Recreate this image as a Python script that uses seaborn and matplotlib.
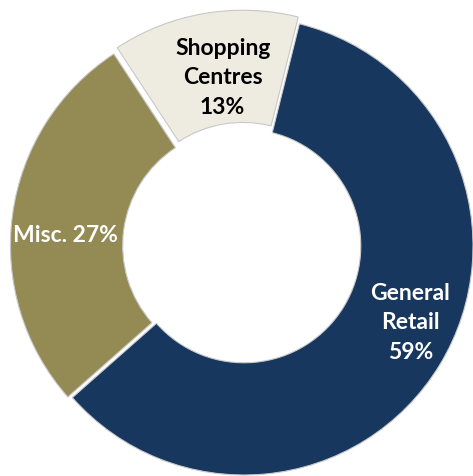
import numpy as np
import matplotlib
matplotlib.use("Agg")
import matplotlib.pyplot as plt
import seaborn as sns

# ── Data ──────────────────────────────────────────────────────────────────────
categories  = ["Shopping Centres", "Misc.", "General Retail"]
label_words = ["Shopping\nCentres", "Misc.", "General\nRetail"]
label_sep   = ["\n", " ", "\n"]
shares      = [13, 27, 59]

# ── Style ─────────────────────────────────────────────────────────────────────
colors      = ["#EEECE1", "#948A54", "#17375E"]
text_colors = ["#000000", "#FFFFFF", "#FFFFFF"]
explode     = [0.03, 0.02, 0.0]
label_r     = [0.71, 0.76, 0.80]
label_nudge = [-2.5, 4.5, 6.5]   # degrees, to mimic the original label placement

sns.set_theme(style="white")
plt.rcParams["font.family"] = ["Lato", "DejaVu Sans"]

fig = plt.figure(figsize=(4.73, 4.76), dpi=100)
ax = fig.add_axes([0, 0, 1, 1])

wedges, _ = ax.pie(
    shares,
    colors=colors,
    explode=explode,
    startangle=76,
    counterclock=True,
    wedgeprops=dict(width=0.49, edgecolor="#C8C8C8", linewidth=0.8),
)

for w, words, sep, pct, tc, r, nudge in zip(
    wedges, label_words, label_sep, shares, text_colors, label_r, label_nudge
):
    mid = np.deg2rad((w.theta1 + w.theta2) / 2 + nudge)
    cx, cy = w.center
    ax.text(
        cx + r * np.cos(mid), cy + r * np.sin(mid),
        f"{words}{sep}{pct}%",
        ha="center", va="center", color=tc,
        fontsize=16.5, fontweight="bold", linespacing=1.5,
    )

# crop like the original: donut centre at (244, 246) px, radius 229 px
R = 229
ax.set_xlim(-244 / R, (473 - 244) / R)
ax.set_ylim(-(476 - 246) / R, 246 / R)
ax.set_aspect("auto")
ax.axis("off")

fig.savefig("out.png", dpi=100, facecolor="white")
